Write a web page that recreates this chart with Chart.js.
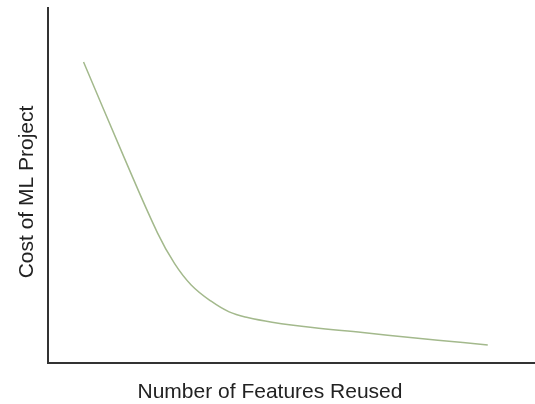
<!DOCTYPE html>
<html>
<head>
<meta charset="utf-8">
<script src="https://cdn.jsdelivr.net/npm/chart.js@4"></script>
<style>
  body { margin: 0; background: #fff; }
  #wrap { width: 535px; height: 404px; }
</style>
</head>
<body>
<div id="wrap"><canvas id="myChart"></canvas></div>
<script>
const featuresReused = [7.3, 15.6, 22.5, 26.0, 29.4, 33.5, 37.2, 41.0, 46.0, 54.3, 64.6, 74.9, 85.2, 90.3];
const costValues = [84.8, 58.0, 36.6, 28.0, 22.0, 17.4, 14.4, 12.8, 11.5, 10.0, 8.6, 7.1, 5.8, 5.1];
const xLabel = 'Number of Features Reused';
const yLabel = 'Cost of ML Project';

// axis titles are placed by hand, the x one is not centred on the plot
const axisTitles = {
  id: 'axisTitles',
  afterDraw(chart) {
    const c = chart.ctx;
    c.save();
    c.fillStyle = '#222';
    c.font = '21px "Liberation Sans", Arial, sans-serif';
    c.textAlign = 'center';
    c.textBaseline = 'alphabetic';
    c.fillText(xLabel, 270, 398);
    c.translate(33, 192);
    c.rotate(-Math.PI / 2);
    c.fillText(yLabel, 0, 0);
    c.restore();
  }
};

const ctx = document.getElementById('myChart');
new Chart(ctx, {
  type: 'line',
  data: {
    datasets: [{
      data: featuresReused.map((x, i) => ({ x: x, y: costValues[i] })),
      borderColor: '#a3b98c',
      borderWidth: 1.5,
      pointRadius: 0,
      tension: 0.4
    }]
  },
  options: {
    responsive: true,
    maintainAspectRatio: false,
    animation: false,
    layout: { padding: { left: 48, top: 8, right: 0, bottom: 41 } },
    plugins: { legend: { display: false }, tooltip: { enabled: false } },
    scales: {
      x: {
        type: 'linear', min: 0, max: 100,
        grid: { display: false, drawTicks: false },
        ticks: { display: false },
        border: { display: true, color: '#333', width: 2 }
      },
      y: {
        min: 0, max: 100,
        grid: { display: false, drawTicks: false },
        ticks: { display: false },
        border: { display: true, color: '#333', width: 2 }
      }
    }
  },
  plugins: [axisTitles]
});
</script>
</body>
</html>
